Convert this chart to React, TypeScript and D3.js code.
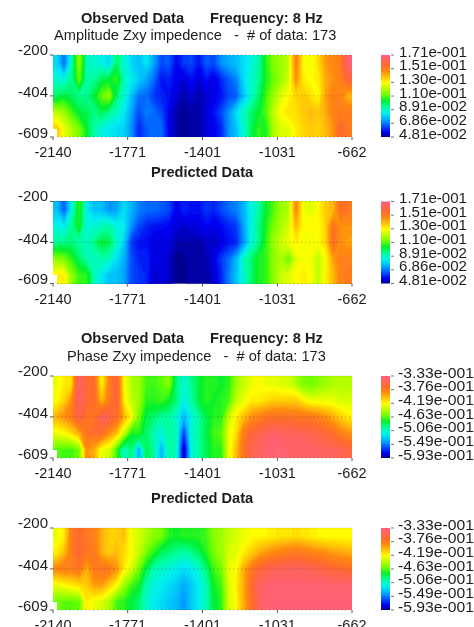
import React from 'react';
import * as d3 from 'd3';

// values are in units of 1e-3, rows run from depth -200 down to -609
const ampObserved = [
  [81,68,90,118,90,88,86,81,98,88,81,78,84,74,64,66,57,62,64,58,66,64,72,75,78,82,86,92,106,115,118,122,150,130,128,135,145,148,152,170],
  [88,86,95,112,92,94,100,102,108,90,84,80,74,68,58,60,56,54,58,54,58,54,60,66,70,82,88,94,105,112,118,124,146,132,130,132,142,146,150,160],
  [98,102,99,94,95,102,112,118,98,88,78,68,68,62,60,58,54,51,54,51,54,56,58,64,66,78,88,97,109,118,126,130,136,138,134,130,144,150,148,140],
  [122,118,109,102,100,95,100,94,90,84,74,64,70,68,64,56,51,49,51,51,54,58,64,72,82,90,97,103,110,122,130,134,134,138,140,138,142,150,152,152],
  [138,128,120,114,103,92,86,84,82,80,72,60,66,68,68,56,51,49,51,51,54,56,60,72,78,88,99,107,105,120,126,126,132,136,138,136,140,146,158,152],
];
const ampPredicted = [
  [78,66,86,107,84,78,78,72,74,82,76,70,68,68,66,64,56,60,58,58,62,60,64,68,70,76,86,92,103,110,118,120,148,128,126,130,138,140,156,152],
  [86,84,94,105,86,88,90,92,86,84,72,64,60,58,58,57,55,53,55,55,57,55,57,60,62,74,86,95,105,114,120,124,140,130,130,130,136,154,146,146],
  [94,95,97,92,90,95,103,100,90,80,62,58,58,55,55,55,51,51,51,51,53,53,55,58,60,72,86,95,107,118,124,128,132,128,128,130,136,156,146,144],
  [116,114,107,98,92,90,92,90,82,76,64,60,60,55,55,53,49,49,51,51,51,55,62,68,76,90,97,105,107,116,120,112,126,130,128,122,130,144,150,150],
  [132,132,116,108,107,90,84,78,78,74,64,62,60,53,55,53,49,49,51,51,51,53,60,70,78,88,97,105,107,116,124,126,130,132,130,122,132,140,150,152],
];
const phaseObserved = [
  [-425,-415,-410,-338,-362,-365,-420,-378,-355,-420,-440,-445,-465,-465,-460,-450,-490,-510,-495,-480,-470,-470,-475,-470,-445,-435,-425,-420,-425,-425,-430,-430,-440,-455,-455,-450,-445,-440,-440,-440],
  [-420,-405,-385,-340,-362,-365,-400,-375,-355,-415,-435,-445,-470,-470,-465,-475,-490,-515,-500,-480,-470,-475,-470,-465,-435,-425,-415,-415,-410,-405,-405,-405,-405,-415,-425,-425,-425,-425,-430,-430],
  [-395,-385,-375,-350,-370,-370,-345,-350,-365,-395,-420,-455,-483,-488,-498,-498,-508,-533,-513,-498,-483,-470,-470,-435,-415,-400,-385,-378,-372,-370,-368,-370,-372,-372,-372,-378,-385,-395,-405,-415],
  [-425,-420,-410,-395,-370,-365,-365,-385,-400,-435,-475,-470,-488,-503,-513,-498,-503,-565,-508,-498,-483,-465,-460,-425,-410,-375,-360,-350,-345,-340,-342,-345,-345,-348,-350,-355,-360,-365,-378,-385],
  [-460,-465,-465,-455,-385,-395,-425,-430,-465,-510,-490,-535,-483,-498,-535,-498,-503,-590,-513,-498,-483,-470,-470,-425,-400,-370,-350,-345,-340,-336,-338,-340,-340,-340,-340,-342,-345,-345,-348,-355],
];
const phasePredicted = [
  [-425,-415,-375,-362,-372,-378,-395,-405,-405,-400,-425,-430,-440,-450,-455,-470,-475,-470,-470,-470,-465,-450,-445,-435,-430,-425,-420,-418,-418,-415,-412,-412,-410,-412,-415,-418,-420,-420,-420,-420],
  [-415,-400,-375,-360,-372,-372,-395,-405,-398,-410,-420,-435,-455,-470,-485,-490,-495,-500,-495,-485,-470,-455,-445,-430,-428,-415,-405,-395,-388,-382,-378,-375,-372,-375,-378,-382,-385,-390,-392,-395],
  [-380,-375,-378,-370,-395,-375,-370,-372,-385,-415,-430,-455,-482,-502,-507,-512,-517,-522,-517,-507,-492,-465,-455,-425,-420,-395,-375,-360,-352,-348,-345,-345,-345,-345,-348,-350,-355,-360,-362,-365],
  [-425,-420,-415,-410,-405,-390,-390,-405,-420,-445,-465,-475,-502,-512,-517,-522,-527,-537,-527,-517,-502,-475,-465,-430,-415,-395,-365,-345,-340,-338,-338,-338,-338,-338,-338,-338,-338,-338,-338,-338],
  [-455,-460,-460,-458,-415,-425,-430,-440,-465,-470,-480,-490,-507,-517,-522,-527,-532,-542,-527,-517,-502,-480,-470,-430,-420,-395,-370,-345,-338,-336,-336,-336,-336,-336,-336,-336,-336,-336,-336,-336],
];

const xTicks = [-2140, -1771, -1401, -1031, -662];
const yTicks = [-200, -404, -609];
const ampLabels = ['1.71e-001', '1.51e-001', '1.30e-001', '1.10e-001', '8.91e-002', '6.86e-002', '4.81e-002'];
const phaseLabels = ['-3.33e-001', '-3.76e-001', '-4.19e-001', '-4.63e-001', '-5.06e-001', '-5.49e-001', '-5.93e-001'];
const ampDomain = [48.1, 171];
const phaseDomain = [-593, -333];

const rampStops = [0, 0.06, 0.13, 0.2, 0.29, 0.36, 0.44, 0.52, 0.66, 0.8, 0.88, 1];
const rampColors = ['#000090', '#0000f0', '#0050ff', '#00a0ff', '#00f0f0', '#00ffa0', '#00f030', '#70ff00', '#ffff00', '#ff8a10', '#ff6a30', '#ff6080'];

const font = '"Liberation Sans", Arial, sans-serif';
const textColor = '#1c1c1c';
const ramp = d3.scaleLinear<string>().domain(rampStops).range(rampColors).interpolate(d3.interpolateRgb);

// copies the edge cells outwards so the contour bands run past the clip
const padGrid = (grid: number[][]) => {
  const wide = grid.map((r) => [r[0], ...r, r[r.length - 1]]);
  return [wide[0], ...wide, wide[wide.length - 1]];
};

type PanelProps = {
  id: string;
  top: number;
  grid: number[][];
  domain: number[];
  labels: string[];
};

const HeatPanel = ({ id, top, grid, domain, labels }: PanelProps) => {
  const height = 82;
  const x = d3.scaleLinear().domain([-2140, -662]).range([53, 352]);
  const y = d3.scaleLinear().domain([-200, -609]).range([top, top + height]);
  const padded = padGrid(grid);
  const rows = padded.length;
  const cols = padded[0].length;
  const gx = d3.scaleLinear().domain([1, cols - 1]).range(x.domain());
  const gy = d3.scaleLinear().domain([1, rows - 1]).range(y.domain());
  const color = (v: number) => ramp((v - domain[0]) / (domain[1] - domain[0]));

  const levels = d3.range(0, 81).map((i) => domain[0] + ((domain[1] - domain[0]) * i) / 80);
  const bands = d3.contours().size([cols, rows]).thresholds(levels)(padded.flat());
  const path = d3.geoPath(
    d3.geoTransform({
      point(px, py) {
        this.stream.point(x(gx(px)), y(gy(py)));
      },
    })
  );

  // the bottom left corner has no data
  const outline = [
    [-2140, -200], [-662, -200], [-662, -609], [-2120, -609], [-2120, -565], [-2140, -565],
  ].map(([a, b]) => `${x(a)},${y(b)}`).join(' ');

  const legendY = d3.scaleLinear().domain([0, labels.length - 1]).range([top, top + height]);
  const isPhase = id.startsWith('phase');

  return (
    <g>
      <defs>
        <clipPath id={`clip-${id}`}><polygon points={outline} /></clipPath>
        <linearGradient id={`legend-${id}`} x1="0" y1="1" x2="0" y2="0">
          {rampStops.map((s, i) => (
            <stop key={s} offset={s} stopColor={rampColors[i]} />
          ))}
        </linearGradient>
      </defs>
      <g clipPath={`url(#clip-${id})`}>
        <rect x={x(-2140)} y={top} width={x(-662) - x(-2140)} height={height} fill={color(domain[0])} />
        {bands.map((b) => (
          <path key={b.value} d={path(b as any) || ''} fill={color(b.value)} stroke={color(b.value)} strokeWidth={0.3} />
        ))}
      </g>
      {yTicks.map((t) => (
        <g key={t}>
          <line x1={x(-2140)} x2={x(-662)} y1={y(t)} y2={y(t)} stroke="#333" strokeOpacity={0.4} strokeDasharray="1 3" />
          <line x1={50} x2={53} y1={y(t)} y2={y(t)} stroke="#555" />
          <text x={48} y={y(t) - 0.5 + (t === -200 ? 0 : t === -404 ? 2 : 1)} textAnchor="end" fontSize={15}>{t}</text>
        </g>
      ))}
      {xTicks.map((t) => (
        <g key={t}>
          <line x1={x(t)} x2={x(t)} y1={top + height} y2={top + height + 3} stroke="#555" />
          <text x={x(t)} y={top + height + 20} textAnchor="middle" fontSize={14.5}>{t}</text>
        </g>
      ))}
      <rect x={381} y={top} width={9} height={height} fill={`url(#legend-${id})`} />
      {labels.map((l, i) => (
        <g key={l}>
          <line x1={391} x2={394} y1={legendY(i)} y2={legendY(i)} stroke="#777" />
          <text x={isPhase ? 398 : 399} y={legendY(i) + 1.5} fontSize={15} textLength={isPhase ? 76 : 68} lengthAdjust="spacingAndGlyphs">{l}</text>
        </g>
      ))}
    </g>
  );
};

const App = () => (
  <svg width={474} height={627} style={{ position: 'absolute', left: 0, top: 0, background: '#fff' }} fontFamily={font} fill={textColor}>
    <defs>
      <filter id="soft" x="0" y="0" width="474" height="627" filterUnits="userSpaceOnUse">
        <feGaussianBlur stdDeviation="0.6" />
      </filter>
    </defs>
    <g filter="url(#soft)">
      <text x={81} y={23} fontSize={14.6} fontWeight="bold">Observed Data</text>
      <text x={210} y={23} fontSize={14.6} fontWeight="bold">Frequency: 8 Hz</text>
      <text x={54} y={40} fontSize={14.6} xmlSpace="preserve">Amplitude Zxy impedence   -  # of data: 173</text>
      <HeatPanel id="amp-obs" top={55} grid={ampObserved} domain={ampDomain} labels={ampLabels} />

      <text x={151} y={177} fontSize={14.6} fontWeight="bold">Predicted Data</text>
      <HeatPanel id="amp-pred" top={201.5} grid={ampPredicted} domain={ampDomain} labels={ampLabels} />

      <text x={81} y={343} fontSize={14.6} fontWeight="bold">Observed Data</text>
      <text x={210} y={343} fontSize={14.6} fontWeight="bold">Frequency: 8 Hz</text>
      <text x={67} y={361} fontSize={14.6} xmlSpace="preserve">Phase Zxy impedence   -  # of data: 173</text>
      <HeatPanel id="phase-obs" top={376} grid={phaseObserved} domain={phaseDomain} labels={phaseLabels} />

      <text x={151} y={503} fontSize={14.6} fontWeight="bold">Predicted Data</text>
      <HeatPanel id="phase-pred" top={528} grid={phasePredicted} domain={phaseDomain} labels={phaseLabels} />
    </g>
  </svg>
);

export default App;
